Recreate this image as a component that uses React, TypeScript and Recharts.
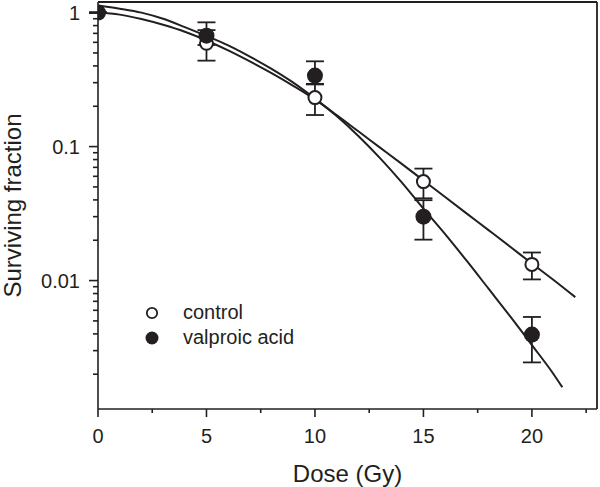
import React from "react";
import { ComposedChart, Scatter, Line, XAxis, YAxis, ErrorBar, Label } from "recharts";

// measured points (mean surviving fraction + error bar down / up)
const doses = [0, 5, 10, 15, 20];
const controlSF = [1.0, 0.59, 0.232, 0.0548, 0.0132];
const controlErrLow = [0, 0.152, 0.06, 0.0137, 0.003];
const controlErrHigh = [0, 0.15, 0.062, 0.0137, 0.003];
const valproicSF = [1.0, 0.673, 0.339, 0.03, 0.00395];
const valproicErrLow = [0, 0.1, 0.048, 0.0098, 0.0015];
const valproicErrHigh = [0, 0.173, 0.094, 0.0098, 0.0014];

// fitted curves
const controlFitDose = [0, 1, 2, 3, 4, 5, 6, 7, 8, 9, 10, 11, 12, 13, 14, 15, 16, 17, 18, 19, 20, 21, 22];
const controlFitSF = [
  1.0, 0.966, 0.896, 0.811, 0.719, 0.619, 0.522, 0.432, 0.353, 0.284, 0.225, 0.172, 0.13, 0.0983,
  0.0743, 0.0559, 0.042, 0.0316, 0.0238, 0.0179, 0.0134, 0.0101, 0.00752,
];
const valproicFitDose = [0, 1, 2, 3, 4, 5, 6, 7, 8, 9, 10, 11, 12, 13, 14, 15, 16, 17, 18, 19, 20, 21, 21.4];
const valproicFitSF = [
  1.13, 1.07, 1.0, 0.9, 0.78, 0.67, 0.57, 0.47, 0.38, 0.3, 0.228, 0.169, 0.12, 0.082, 0.054, 0.0344,
  0.0222, 0.014, 0.0087, 0.0054, 0.0033, 0.002, 0.0016,
];

const xTicks = [0, 2.5, 5, 7.5, 10, 12.5, 15, 17.5, 20, 22.5];
const xLabels = [0, 5, 10, 15, 20];
const yTicks = [
  0.002, 0.003, 0.004, 0.005, 0.006, 0.007, 0.008, 0.009, 0.01, 0.02, 0.03, 0.04, 0.05, 0.06, 0.07, 0.08,
  0.09, 0.1, 0.2, 0.3, 0.4, 0.5, 0.6, 0.7, 0.8, 0.9, 1,
];
const yLabels = [0.01, 0.1, 1];
const xDomain = [0, 23];
const yDomain = [0.0011, 1.2];
const legendItems = [
  { name: "control", filled: false },
  { name: "valproic acid", filled: true },
];

const INK = "#231f20";
const FONT = "'Liberation Sans', Arial, Helvetica, sans-serif";
const W = 600;
const H = 487;

const controlPoints = doses.map((x, i) => ({ x, y: controlSF[i], err: [controlErrLow[i], controlErrHigh[i]] }));
const valproicPoints = doses.map((x, i) => ({ x, y: valproicSF[i], err: [valproicErrLow[i], valproicErrHigh[i]] }));
const controlFit = controlFitDose.map((x, i) => ({ x, y: controlFitSF[i] }));
const valproicFit = valproicFitDose.map((x, i) => ({ x, y: valproicFitSF[i] }));

function XTick(props: any) {
  const { x, y, payload } = props;
  const major = xLabels.includes(payload.value);
  return (
    <g>
      <line x1={x} x2={x} y1={y} y2={y + (major ? 8 : 4)} stroke={INK} strokeWidth={1.6} />
      {major && (
        <text x={x} y={y + 34} textAnchor="middle" fontSize={20} fontFamily={FONT} fill={INK}>
          {payload.value}
        </text>
      )}
    </g>
  );
}

function YTick(props: any) {
  const { x, y, payload } = props;
  const major = yLabels.some((v) => Math.abs(v - payload.value) < 1e-9);
  return (
    <g>
      <line x1={x} x2={x - (major ? 9 : 5)} y1={y} y2={y} stroke={INK} strokeWidth={1.6} />
      {major && (
        <text x={x - 18} y={y} dy="0.36em" textAnchor="end" fontSize={20} fontFamily={FONT} fill={INK}>
          {payload.value}
        </text>
      )}
    </g>
  );
}

const NoDot = () => <g />;
const OpenDot = (p: any) => <circle cx={p.cx} cy={p.cy} r={6.5} fill="#fff" stroke={INK} strokeWidth={2} />;
const FilledDot = (p: any) => <circle cx={p.cx} cy={p.cy} r={8} fill={INK} />;

function LegendBox() {
  return (
    <div style={{ position: "absolute", left: 144, top: 300, fontFamily: FONT, fontSize: 20, color: INK }}>
      {legendItems.map((it) => (
        <div key={it.name} style={{ display: "flex", alignItems: "center", height: 25 }}>
          <svg width={16} height={16} style={{ display: "block" }}>
            {it.filled ? (
              <circle cx={8} cy={8} r={6.5} fill={INK} />
            ) : (
              <circle cx={8} cy={8} r={5.2} fill="#fff" stroke={INK} strokeWidth={1.8} />
            )}
          </svg>
          <span style={{ marginLeft: 23, lineHeight: "25px" }}>{it.name}</span>
        </div>
      ))}
    </div>
  );
}

export default function App() {
  return (
    <div style={{ position: "absolute", left: 0, top: 0, width: W, height: H, background: "#fff" }}>
      <ComposedChart width={W} height={H} margin={{ top: 0, right: 0, bottom: 0, left: 0 }}>
        <XAxis
          type="number"
          dataKey="x"
          domain={xDomain}
          ticks={xTicks}
          interval={0}
          allowDataOverflow
          height={78}
          tickLine={false}
          tickSize={0}
          tickMargin={0}
          tick={(p: any) => <XTick {...p} />}
          axisLine={{ stroke: INK, strokeWidth: 1.6 }}
        >
          <Label value="Dose (Gy)" position="insideBottom" offset={5} fontSize={24} fontFamily={FONT} fill={INK} />
        </XAxis>
        {/* frame: top edge */}
        <XAxis
          xAxisId="top"
          orientation="top"
          type="number"
          domain={xDomain}
          height={2}
          tick={false}
          tickLine={false}
          axisLine={{ stroke: INK, strokeWidth: 1.8 }}
        />
        <YAxis
          type="number"
          dataKey="y"
          scale="log"
          domain={yDomain}
          ticks={yTicks}
          interval={0}
          allowDataOverflow
          width={98}
          tickLine={false}
          tickSize={0}
          tickMargin={0}
          tick={(p: any) => <YTick {...p} />}
          axisLine={{ stroke: INK, strokeWidth: 1.6 }}
        >
          <Label
            value="Surviving fraction"
            angle={-90}
            position="insideLeft"
            offset={12}
            fontSize={24}
            fontFamily={FONT}
            fill={INK}
            style={{ textAnchor: "middle" }}
          />
        </YAxis>
        {/* frame: right edge */}
        <YAxis
          yAxisId="right"
          orientation="right"
          type="number"
          domain={[0, 1]}
          width={3}
          tick={false}
          tickLine={false}
          axisLine={{ stroke: INK, strokeWidth: 1.8 }}
        />
        {/* error bars first, markers on top */}
        <Scatter data={controlPoints} shape={NoDot} legendType="none" isAnimationActive={false}>
          <ErrorBar dataKey="err" direction="y" width={9} stroke={INK} strokeWidth={1.8} />
        </Scatter>
        <Scatter data={valproicPoints} shape={NoDot} legendType="none" isAnimationActive={false}>
          <ErrorBar dataKey="err" direction="y" width={9} stroke={INK} strokeWidth={1.8} />
        </Scatter>
        <Scatter name="control" data={controlPoints} shape={OpenDot} isAnimationActive={false} />
        <Scatter name="valproic acid" data={valproicPoints} shape={FilledDot} isAnimationActive={false} />
        <Line
          data={controlFit}
          dataKey="y"
          type="monotone"
          stroke={INK}
          strokeWidth={2}
          dot={false}
          activeDot={false}
          legendType="none"
          isAnimationActive={false}
        />
        <Line
          data={valproicFit}
          dataKey="y"
          type="monotone"
          stroke={INK}
          strokeWidth={2}
          dot={false}
          activeDot={false}
          legendType="none"
          isAnimationActive={false}
        />
      </ComposedChart>
      <LegendBox />
    </div>
  );
}
